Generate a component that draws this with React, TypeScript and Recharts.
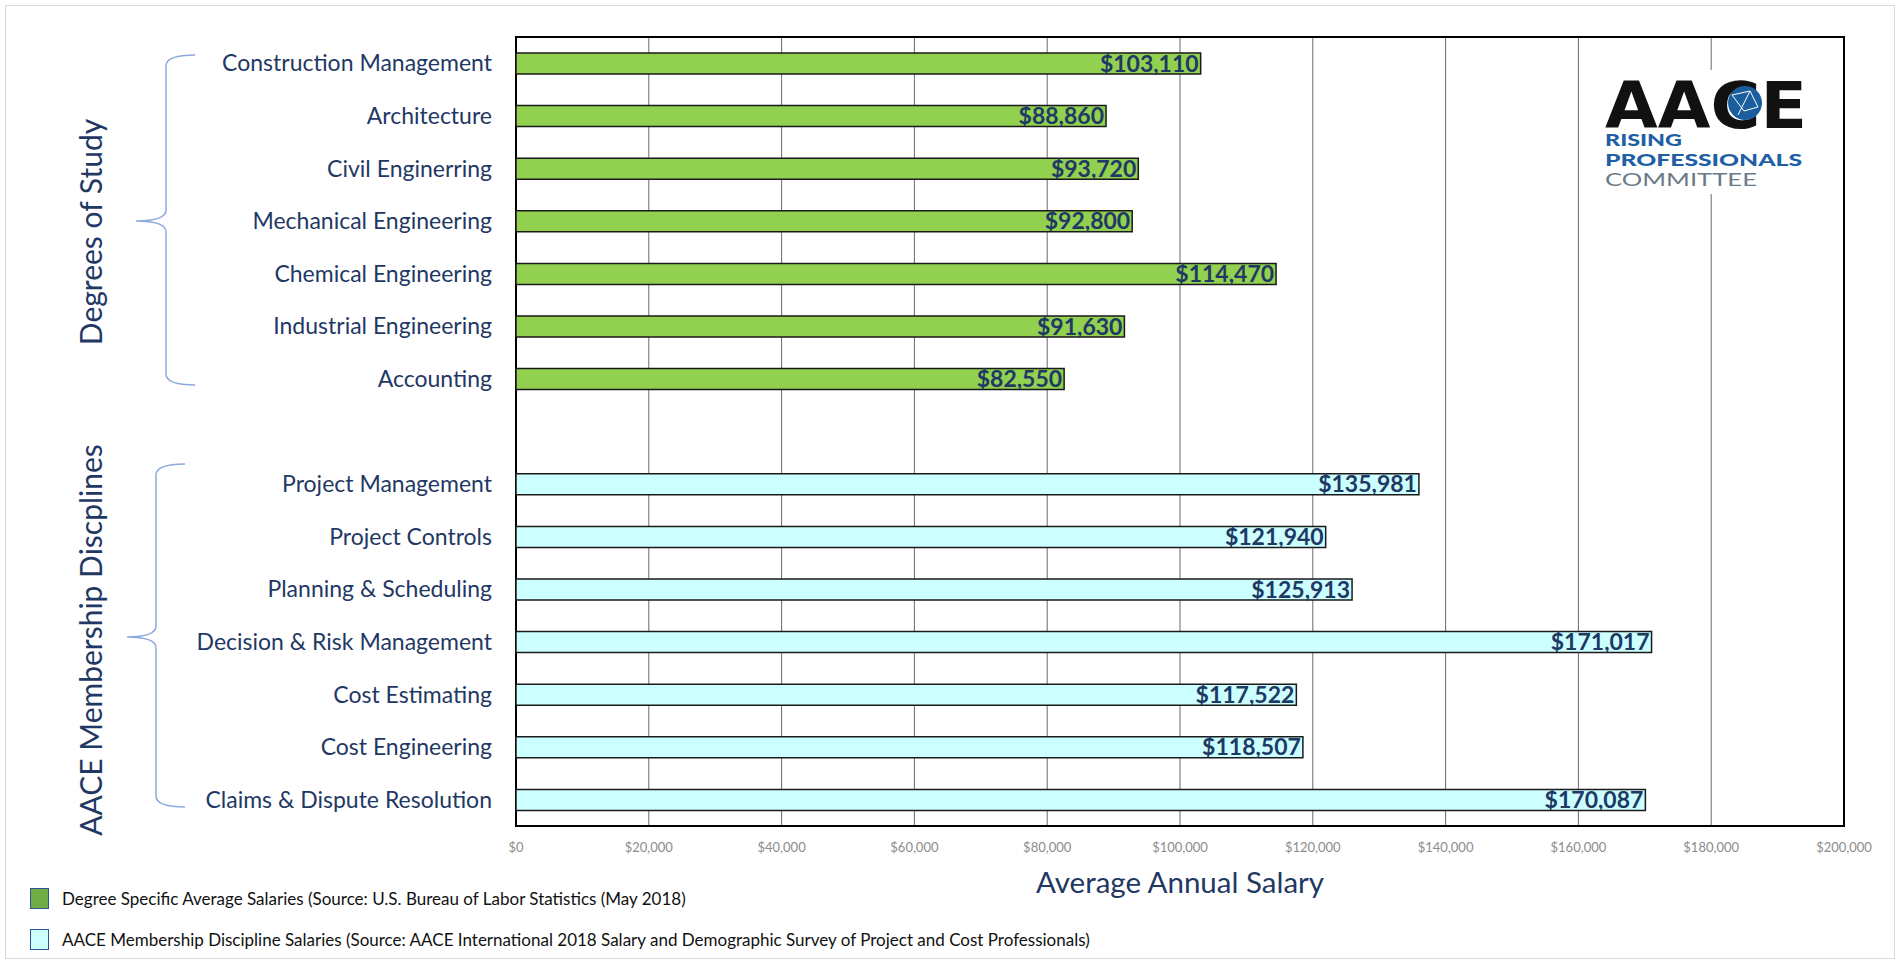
import React from "react";
import {
  Bar,
  BarChart,
  CartesianGrid,
  LabelList,
  ReferenceArea,
  XAxis,
  YAxis,
} from "recharts";

const categories = [
  "Construction Management",
  "Architecture",
  "Civil Enginerring",
  "Mechanical Engineering",
  "Chemical Engineering",
  "Industrial Engineering",
  "Accounting",
  " ",
  "Project Management",
  "Project Controls",
  "Planning & Scheduling",
  "Decision & Risk Management",
  "Cost Estimating",
  "Cost Engineering",
  "Claims & Dispute Resolution",
];

const degreeSalaries = [103110, 88860, 93720, 92800, 114470, 91630, 82550];
const aaceSalaries = [135981, 121940, 125913, 171017, 117522, 118507, 170087];

const xTicks = [0, 20000, 40000, 60000, 80000, 100000, 120000, 140000, 160000, 180000, 200000];

const NAVY = "#1F3864";
const FONT = "Lato, 'Open Sans', sans-serif";

const rows = categories.map((name, i) => ({
  name,
  degree: i < degreeSalaries.length ? degreeSalaries[i] : null,
  aace: i > degreeSalaries.length ? aaceSalaries[i - degreeSalaries.length - 1] : null,
}));

const money = (v: any) => (v == null || v === 0 ? "" : `$${Number(v).toLocaleString("en-US")}`);

function Braces() {
  return (
    <svg
      width={300}
      height={965}
      style={{ position: "absolute", left: 0, top: 0, pointerEvents: "none" }}
    >
      <path
        d="M195 55 Q166 55 166 66 L166 210 Q166 221 136 221 Q166 221 166 232 L166 374 Q166 385 195 385"
        fill="none"
        stroke="#8EA9DB"
        strokeWidth={1.5}
      />
      <path
        d="M185 464 Q156 464 156 475 L156 626 Q156 637 127 637 Q156 637 156 648 L156 796 Q156 807 185 807"
        fill="none"
        stroke="#8EA9DB"
        strokeWidth={1.5}
      />
      <text
        transform="translate(90 232) rotate(-90)"
        textAnchor="middle"
        dominantBaseline="central"
        fontFamily={FONT}
        fontSize={30}
        fill={NAVY}
      >
        Degrees of Study
      </text>
      <text
        transform="translate(90 640) rotate(-90)"
        textAnchor="middle"
        dominantBaseline="central"
        fontFamily={FONT}
        fontSize={30}
        fill={NAVY}
      >
        AACE Membership Discplines
      </text>
    </svg>
  );
}

function Logo() {
  return (
    <svg width={220} height={150} style={{ position: "absolute", left: 1598, top: 50 }}>
      <rect x={0} y={20} width={220} height={124} fill="#fff" />
      <text
        x={7}
        y={78}
        fontFamily="'DejaVu Sans', sans-serif"
        fontWeight={700}
        fontSize={64}
        textLength={202}
        lengthAdjust="spacingAndGlyphs"
        fill="#111"
      >
        AACE
      </text>
      <circle cx={147} cy={53} r={17} fill="#1B5E9E" />
      <path
        d="M134 45 L152 41 L160 57 M140 65 L152 41 M134 45 L146 61 L160 57"
        stroke="#fff"
        strokeWidth={1}
        fill="none"
      />
      <text x={7} y={96} fontFamily={FONT} fontWeight={900} fontSize={17} fill="#1F5FA6" textLength={77} lengthAdjust="spacingAndGlyphs">
        RISING
      </text>
      <text x={7} y={116} fontFamily={FONT} fontWeight={900} fontSize={17} fill="#1F5FA6" textLength={197} lengthAdjust="spacingAndGlyphs">
        PROFESSIONALS
      </text>
      <text x={7} y={136} fontFamily={FONT} fontSize={17} fill="#6D7B87" textLength={152} lengthAdjust="spacingAndGlyphs">
        COMMITTEE
      </text>
    </svg>
  );
}

function Legend() {
  const items = [
    { color: "#70AD47", text: "Degree Specific Average Salaries (Source: U.S. Bureau of Labor Statistics (May 2018)" },
    {
      color: "#CCFFFF",
      text: "AACE Membership Discipline Salaries (Source: AACE International 2018 Salary and Demographic Survey of Project and Cost Professionals)",
    },
  ];
  return (
    <div style={{ position: "absolute", left: 30, top: 878, fontFamily: FONT, fontSize: 17, color: "#111" }}>
      {items.map((it) => (
        <div key={it.text} style={{ display: "flex", alignItems: "center", height: 41 }}>
          <span
            style={{
              display: "inline-block",
              width: 19,
              height: 21,
              background: it.color,
              border: "1.5px solid #2F5597",
              marginRight: 13,
              boxSizing: "border-box",
            }}
          />
          {it.text}
        </div>
      ))}
    </div>
  );
}

export default function App() {
  return (
    <div style={{ position: "absolute", left: 0, top: 0, width: 1904, height: 965, background: "#fff" }}>
      <div
        style={{
          position: "absolute",
          left: 5,
          top: 5,
          width: 1890,
          height: 954,
          border: "1px solid #d9d9d9",
          boxSizing: "border-box",
        }}
      />
      <BarChart
        width={1904}
        height={965}
        data={rows}
        layout="vertical"
        margin={{ top: 37, right: 60, left: 0, bottom: 69 }}
        barCategoryGap={0}
      >
        <CartesianGrid horizontal={false} stroke="#6b6b6b" strokeWidth={1} />
        <XAxis
          type="number"
          domain={[0, 200000]}
          ticks={xTicks}
          axisLine={false}
          tickLine={false}
          tickSize={0}
          tickMargin={17}
          height={70}
          tick={{ fontSize: 13, fill: "#8c8c8c", fontFamily: FONT }}
          label={{
            value: "Average Annual Salary",
            position: "insideBottom",
            offset: 3,
            fontSize: 29.5,
            fill: NAVY,
            fontFamily: FONT,
          }}
          tickFormatter={(v: number) => `$${v.toLocaleString("en-US")}`}
        />
        <YAxis
          type="category"
          dataKey="name"
          width={516}
          interval={0}
          axisLine={false}
          tickLine={false}
          tickSize={6}
          tickMargin={18}
          tick={{ fontSize: 23, fill: NAVY, fontFamily: FONT }}
        />
        <ReferenceArea
          x1={0}
          x2={200000}
          fill="none"
          stroke="#000"
          strokeWidth={2}
          fillOpacity={0}
          ifOverflow="visible"
        />
        <Bar
          dataKey="degree"
          stackId="s"
          barSize={21}
          fill="#92D050"
          stroke="#1a1a1a"
          strokeWidth={1.5}
          isAnimationActive={false}
        >
          <LabelList
            dataKey="degree"
            position="insideRight"
            offset={2}
            formatter={money}
            style={{ fontSize: 23, fontWeight: 700, fill: NAVY, fontFamily: FONT }}
          />
        </Bar>
        <Bar
          dataKey="aace"
          stackId="s"
          barSize={21}
          fill="#CCFFFF"
          stroke="#1a1a1a"
          strokeWidth={1.5}
          isAnimationActive={false}
        >
          <LabelList
            dataKey="aace"
            position="insideRight"
            offset={2}
            formatter={money}
            style={{ fontSize: 23, fontWeight: 700, fill: NAVY, fontFamily: FONT }}
          />
        </Bar>
      </BarChart>
      <Braces />
      <Logo />
      <Legend />
    </div>
  );
}
